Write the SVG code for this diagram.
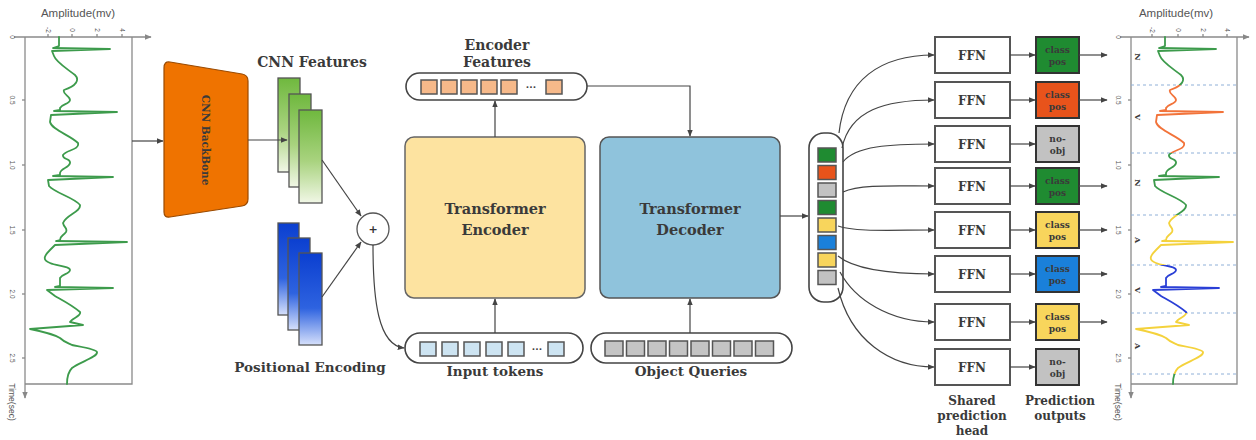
<svg xmlns="http://www.w3.org/2000/svg" width="1256" height="440" viewBox="0 0 1256 440">
<style>
.t{font-family:"DejaVu Serif","Liberation Serif",serif;font-weight:bold;fill:#3a3a3a;text-anchor:middle}
.ax{font-family:"Liberation Sans",Arial,sans-serif;fill:#555;text-anchor:middle}
.axl{stroke:#8a8a8a;stroke-width:1.3;fill:none}
.con{stroke:#444;stroke-width:1.2;fill:none}
.pill{fill:#fff;stroke:#444;stroke-width:1.6}
.ffn{fill:#fff;stroke:#555;stroke-width:2}
.pred{stroke:#333;stroke-width:2}
.sq{stroke:#555;stroke-width:1.5}
.dash{stroke:#8fb0d8;stroke-width:1;stroke-dasharray:3 3}
.ecg{fill:none;stroke-width:1.8;stroke-linejoin:round;stroke-linecap:round}
</style>
<defs>
<marker id="ah" viewBox="0 0 10 10" refX="9" refY="5" markerWidth="7" markerHeight="7" orient="auto" markerUnits="userSpaceOnUse">
<path d="M0,1 L10,5 L0,9 z" fill="#444"/>
</marker>
<marker id="ahg" viewBox="0 0 10 10" refX="9" refY="5" markerWidth="7" markerHeight="7" orient="auto" markerUnits="userSpaceOnUse">
<path d="M0,1 L10,5 L0,9 z" fill="#888"/>
</marker>
<linearGradient id="gG" x1="0" y1="0" x2="0" y2="1">
<stop offset="0" stop-color="#6fb83e"/><stop offset="0.55" stop-color="#a9d37f"/><stop offset="1" stop-color="#f1f7e6"/>
</linearGradient>
<linearGradient id="gB" x1="0" y1="0" x2="0" y2="1">
<stop offset="0" stop-color="#0b3fd0"/><stop offset="0.6" stop-color="#2e63e0"/><stop offset="1" stop-color="#d6e0fb"/>
</linearGradient>
<path id="ecg" d="M59,37 L59,46 L53,48 L110,49 L52,51 L54,56 C56,62 66,68 75,75 C80,80 76,86 64,90 C62,94 70,96 70,100 C70,104 62,104 60,108 L60,110 L54,111 L117,112 L51,115 L50,122 C52,130 70,135 78,143 C80,150 66,150 63,155 C62,160 71,158 70,163 C69,168 61,168 60,173 L60,175 L53,176 L113,177 L48,180 L49,186 C55,193 75,198 80,205 C81,212 66,215 63,223 C64,228 68,228 66,232 C63,236 60,236 60,240 L56,241 L127,242 L55,245 L50,250 C44,256 42,260 50,263 C56,266 70,266 70,270 C70,274 62,274 60,278 L60,286 L55,287 L113,288 L47,290 L55,296 C62,300 72,305 80,312 C82,316 72,318 70,322 L83,325 L30,329 C45,332 55,335 60,338 C64,342 68,343 72,345 C82,347 96,349 97,352 C98,357 80,362 72,368 C68,372 67,378 67,384"/>
<clipPath id="b1"><rect x="1100" y="0" width="150" height="85"/></clipPath>
<clipPath id="b2"><rect x="1100" y="85" width="150" height="68"/></clipPath>
<clipPath id="b3"><rect x="1100" y="153" width="150" height="62"/></clipPath>
<clipPath id="b4"><rect x="1100" y="215" width="150" height="50"/></clipPath>
<clipPath id="b5"><rect x="1100" y="265" width="150" height="48"/></clipPath>
<clipPath id="b6"><rect x="1100" y="313" width="150" height="61"/></clipPath>
<clipPath id="b7"><rect x="1100" y="374" width="150" height="20"/></clipPath>
</defs>

<!-- Left ECG plot -->
<g id="ecg-input">
<text class="ax" x="78" y="17" font-size="11.5">Amplitude(mv)</text>
<line class="axl" x1="14" y1="37" x2="151" y2="37" marker-end="url(#ahg)"/>
<line class="axl" x1="25" y1="37" x2="25" y2="398" marker-end="url(#ahg)"/>
<polyline class="axl" points="132,37 132,384 25,384"/>
<g class="axl" stroke-width="1"><line x1="48" y1="34" x2="48" y2="37"/><line x1="72" y1="34" x2="72" y2="37"/><line x1="97" y1="34" x2="97" y2="37"/><line x1="122" y1="34" x2="122" y2="37"/>
<line x1="22" y1="100" x2="25" y2="100"/><line x1="22" y1="165" x2="25" y2="165"/><line x1="22" y1="230" x2="25" y2="230"/><line x1="22" y1="294" x2="25" y2="294"/><line x1="22" y1="358" x2="25" y2="358"/></g>
<g class="ax" font-size="6.5">
<text transform="translate(46,30) rotate(90)">-2</text><text transform="translate(70,30) rotate(90)">0</text><text transform="translate(95,30) rotate(90)">2</text><text transform="translate(120,30) rotate(90)">4</text>
<text transform="translate(10,37) rotate(90)">0</text><text transform="translate(10,100) rotate(90)">0.5</text><text transform="translate(10,165) rotate(90)">1.0</text><text transform="translate(10,230) rotate(90)">1.5</text><text transform="translate(10,294) rotate(90)">2.0</text><text transform="translate(10,358) rotate(90)">2.5</text>
</g>
<text class="ax" transform="translate(9,402) rotate(90)" font-size="8.5">Time(sec)</text>
<use href="#ecg" class="ecg" stroke="#3d9b4c"/>
</g>

<!-- CNN backbone -->
<g id="cnn-backbone">
<path d="M170,62 L242,74 Q248,75 248,81 L248,199 Q248,205 242,206 L170,217 Q164,218 164,212 L164,68 Q164,61 170,62 z" fill="#ef7300" stroke="#9a4a00" stroke-width="1.2"/>
<text class="t" transform="translate(202,140) rotate(90)" font-size="10.5" fill="#222">CNN BackBone</text>
</g>

<!-- CNN features -->
<g id="cnn-features">
<text class="t" x="312" y="67" font-size="14">CNN Features</text>
<rect x="278" y="78" width="22" height="94" fill="url(#gG)" stroke="#555" stroke-width="1.3"/>
<rect x="289" y="94" width="22" height="93" fill="url(#gG)" stroke="#555" stroke-width="1.3"/>
<rect x="299" y="110" width="23" height="93" fill="url(#gG)" stroke="#555" stroke-width="1.3"/>
</g>

<!-- Positional encoding -->
<g id="positional-encoding">
<rect x="278" y="223" width="21" height="92" fill="url(#gB)" stroke="#555" stroke-width="1.3"/>
<rect x="288" y="238" width="22" height="92" fill="url(#gB)" stroke="#555" stroke-width="1.3"/>
<rect x="299" y="253" width="23" height="92" fill="url(#gB)" stroke="#555" stroke-width="1.3"/>
<text class="t" x="310" y="372" font-size="13.5">Positional Encoding</text>
</g>

<!-- Sum -->
<g id="sum">
<circle cx="373" cy="229" r="16" fill="#fff" stroke="#555" stroke-width="1.3"/>
<text x="373" y="233" font-family="DejaVu Sans,sans-serif" font-size="11" font-weight="bold" text-anchor="middle" fill="#333">+</text>
</g>

<!-- Encoder features -->
<g id="encoder-features">
<text class="t" x="497" y="50" font-size="14">Encoder</text>
<text class="t" x="497" y="67" font-size="14">Features</text>
<rect class="pill" x="406" y="73" width="181" height="27" rx="13.5"/>
<g class="sq" fill="#f6b98a">
<rect x="421" y="80" width="16" height="14"/><rect x="441" y="80" width="16" height="14"/><rect x="461" y="80" width="16" height="14"/><rect x="481" y="80" width="16" height="14"/><rect x="501" y="80" width="16" height="14"/><rect x="546" y="80" width="16" height="14"/>
</g>
<text x="531" y="90" font-family="DejaVu Sans,sans-serif" font-size="9" font-weight="bold" text-anchor="middle" fill="#444">···</text>
</g>

<!-- Transformer encoder -->
<g id="transformer-encoder">
<rect x="405" y="137" width="180" height="161" rx="9" fill="#fde3a0" stroke="#666" stroke-width="1.5"/>
<text class="t" x="495" y="214" font-size="14.5">Transformer</text>
<text class="t" x="495" y="235" font-size="14.5">Encoder</text>
</g>

<!-- Transformer decoder -->
<g id="transformer-decoder">
<rect x="600" y="137" width="180" height="161" rx="9" fill="#8fc3dc" stroke="#555" stroke-width="1.5"/>
<text class="t" x="690" y="214" font-size="14.5">Transformer</text>
<text class="t" x="690" y="235" font-size="14.5">Decoder</text>
</g>

<!-- Input tokens -->
<g id="input-tokens">
<rect class="pill" x="405" y="333" width="178" height="30" rx="15"/>
<g class="sq" fill="#cde4f2">
<rect x="420" y="342" width="16" height="14"/><rect x="442" y="342" width="16" height="14"/><rect x="464" y="342" width="16" height="14"/><rect x="486" y="342" width="16" height="14"/><rect x="508" y="342" width="16" height="14"/><rect x="548" y="342" width="16" height="14"/>
</g>
<text x="537" y="352" font-family="DejaVu Sans,sans-serif" font-size="9" font-weight="bold" text-anchor="middle" fill="#444">···</text>
<text class="t" x="495" y="376" font-size="13.5">Input tokens</text>
</g>

<!-- Object queries -->
<g id="object-queries">
<rect class="pill" x="591" y="333" width="201" height="30" rx="15"/>
<g class="sq" fill="#c4c4c4">
<rect x="605" y="341" width="18" height="15"/><rect x="626.5" y="341" width="18" height="15"/><rect x="648" y="341" width="18" height="15"/><rect x="669.5" y="341" width="18" height="15"/><rect x="691" y="341" width="18" height="15"/><rect x="712.5" y="341" width="18" height="15"/><rect x="734" y="341" width="18" height="15"/><rect x="755.5" y="341" width="18" height="15"/>
</g>
<text class="t" x="691" y="376" font-size="13.5">Object Queries</text>
</g>

<!-- Decoder outputs column -->
<g id="decoder-outputs">
<rect class="pill" x="809" y="133" width="34" height="169" rx="15"/>
<g class="sq">
<rect x="818" y="148" width="18" height="14" fill="#1f8b31"/>
<rect x="818" y="165.5" width="18" height="14" fill="#e8531b"/>
<rect x="818" y="183" width="18" height="14" fill="#c2c2c2"/>
<rect x="818" y="200.5" width="18" height="14" fill="#1f8b31"/>
<rect x="818" y="218" width="18" height="14" fill="#f8d55c"/>
<rect x="818" y="235.5" width="18" height="14" fill="#1a80da"/>
<rect x="818" y="253" width="18" height="14" fill="#f8d55c"/>
<rect x="818" y="270.5" width="18" height="14" fill="#c2c2c2"/>
</g>
</g>

<!-- FFN heads -->
<g id="ffn-heads">
<rect class="ffn" x="935" y="37" width="75" height="36"/>
<rect class="ffn" x="935" y="82" width="75" height="36"/>
<rect class="ffn" x="935" y="126" width="75" height="36"/>
<rect class="ffn" x="935" y="168" width="75" height="36"/>
<rect class="ffn" x="935" y="212" width="75" height="36"/>
<rect class="ffn" x="935" y="256" width="75" height="36"/>
<rect class="ffn" x="935" y="304" width="75" height="36"/>
<rect class="ffn" x="935" y="349" width="75" height="36"/>
<g class="t" font-size="12">
<text x="972" y="60">FFN</text><text x="972" y="105">FFN</text><text x="972" y="149">FFN</text><text x="972" y="191">FFN</text><text x="972" y="235">FFN</text><text x="972" y="279">FFN</text><text x="972" y="327">FFN</text><text x="972" y="372">FFN</text>
</g>
<text class="t" x="972" y="405" font-size="12">Shared</text>
<text class="t" x="972" y="420" font-size="12">prediction</text>
<text class="t" x="972" y="435" font-size="12">head</text>
</g>

<!-- Prediction outputs -->
<g id="prediction-outputs">
<rect class="pred" x="1036" y="37" width="43" height="36" fill="#1f8b31"/>
<rect class="pred" x="1036" y="82" width="43" height="36" fill="#e8531b"/>
<rect class="pred" x="1036" y="126" width="43" height="36" fill="#c2c2c2"/>
<rect class="pred" x="1036" y="168" width="43" height="36" fill="#1f8b31"/>
<rect class="pred" x="1036" y="212" width="43" height="36" fill="#f8d55c"/>
<rect class="pred" x="1036" y="256" width="43" height="36" fill="#1a80da"/>
<rect class="pred" x="1036" y="304" width="43" height="36" fill="#f8d55c"/>
<rect class="pred" x="1036" y="349" width="43" height="36" fill="#c2c2c2"/>
<g class="t" font-size="9" fill="#333">
<text x="1057.5" y="53">class</text><text x="1057.5" y="65">pos</text>
<text x="1057.5" y="98">class</text><text x="1057.5" y="110">pos</text>
<text x="1057.5" y="142">no-</text><text x="1057.5" y="154">obj</text>
<text x="1057.5" y="184">class</text><text x="1057.5" y="196">pos</text>
<text x="1057.5" y="228">class</text><text x="1057.5" y="240">pos</text>
<text x="1057.5" y="272">class</text><text x="1057.5" y="284">pos</text>
<text x="1057.5" y="320">class</text><text x="1057.5" y="332">pos</text>
<text x="1057.5" y="365">no-</text><text x="1057.5" y="377">obj</text>
</g>
<text class="t" x="1060" y="405" font-size="12">Prediction</text>
<text class="t" x="1060" y="420" font-size="12">outputs</text>
</g>

<!-- Right ECG plot -->
<g id="ecg-output">
<text class="ax" x="1176" y="17" font-size="11.5">Amplitude(mv)</text>
<line class="axl" x1="1120" y1="37" x2="1249" y2="37" marker-end="url(#ahg)"/>
<line class="axl" x1="1131" y1="37" x2="1131" y2="398" marker-end="url(#ahg)"/>
<polyline class="axl" points="1237,37 1237,384 1131,384"/>
<g class="axl" stroke-width="1"><line x1="1152" y1="34" x2="1152" y2="37"/><line x1="1178" y1="34" x2="1178" y2="37"/><line x1="1203" y1="34" x2="1203" y2="37"/><line x1="1227" y1="34" x2="1227" y2="37"/>
<line x1="1128" y1="100" x2="1131" y2="100"/><line x1="1128" y1="165" x2="1131" y2="165"/><line x1="1128" y1="230" x2="1131" y2="230"/><line x1="1128" y1="294" x2="1131" y2="294"/><line x1="1128" y1="358" x2="1131" y2="358"/></g>
<g class="ax" font-size="6.5">
<text transform="translate(1150,30) rotate(90)">-2</text><text transform="translate(1176,30) rotate(90)">0</text><text transform="translate(1201,30) rotate(90)">2</text><text transform="translate(1225,30) rotate(90)">4</text>
<text transform="translate(1116,37) rotate(90)">0</text><text transform="translate(1116,100) rotate(90)">0.5</text><text transform="translate(1116,165) rotate(90)">1.0</text><text transform="translate(1116,230) rotate(90)">1.5</text><text transform="translate(1116,294) rotate(90)">2.0</text><text transform="translate(1116,358) rotate(90)">2.5</text>
</g>
<text class="ax" transform="translate(1115,402) rotate(90)" font-size="8.5">Time(sec)</text>
<g class="dash"><line x1="1131" y1="85" x2="1237" y2="85"/><line x1="1131" y1="153" x2="1237" y2="153"/><line x1="1131" y1="215" x2="1237" y2="215"/><line x1="1131" y1="265" x2="1237" y2="265"/><line x1="1131" y1="313" x2="1237" y2="313"/><line x1="1131" y1="374" x2="1237" y2="374"/></g>
<g class="t" font-size="8" fill="#444">
<text transform="translate(1135,57) rotate(90)">N</text><text transform="translate(1135,117) rotate(90)">V</text><text transform="translate(1135,183) rotate(90)">N</text><text transform="translate(1135,240) rotate(90)">A</text><text transform="translate(1135,290) rotate(90)">V</text><text transform="translate(1135,346) rotate(90)">A</text>
</g>
<g clip-path="url(#b1)"><use href="#ecg" class="ecg" stroke="#3d9b4c" transform="translate(1106,0)"/></g>
<g clip-path="url(#b2)"><use href="#ecg" class="ecg" stroke="#f2733a" transform="translate(1106,0)"/></g>
<g clip-path="url(#b3)"><use href="#ecg" class="ecg" stroke="#3d9b4c" transform="translate(1106,0)"/></g>
<g clip-path="url(#b4)"><use href="#ecg" class="ecg" stroke="#f4d23c" transform="translate(1106,0)"/></g>
<g clip-path="url(#b5)"><use href="#ecg" class="ecg" stroke="#2a3fd6" transform="translate(1106,0)"/></g>
<g clip-path="url(#b6)"><use href="#ecg" class="ecg" stroke="#f4d23c" transform="translate(1106,0)"/></g>
<g clip-path="url(#b7)"><use href="#ecg" class="ecg" stroke="#3d9b4c" transform="translate(1106,0)"/></g>
</g>

<!-- Connectors -->
<g id="connectors">
<line class="con" x1="132" y1="141" x2="163" y2="141" marker-end="url(#ah)"/>
<line class="con" x1="248" y1="140" x2="287" y2="140" marker-end="url(#ah)"/>
<line class="con" x1="322" y1="160" x2="361" y2="216" marker-end="url(#ah)"/>
<line class="con" x1="322" y1="297" x2="361" y2="242" marker-end="url(#ah)"/>
<path class="con" d="M373,245 C373,300 378,345 404,348" marker-end="url(#ah)"/>
<line class="con" x1="495" y1="333" x2="495" y2="299" marker-end="url(#ah)"/>
<line class="con" x1="495" y1="137" x2="495" y2="101" marker-end="url(#ah)"/>
<polyline class="con" points="587,86 690,86 690,136" marker-end="url(#ah)"/>
<line class="con" x1="690" y1="333" x2="690" y2="299" marker-end="url(#ah)"/>
<line class="con" x1="780" y1="216" x2="808" y2="216" marker-end="url(#ah)"/>
<path class="con" d="M839,133 C845,80 880,55 934,55" marker-end="url(#ah)"/>
<path class="con" d="M842,148 C850,110 885,100 934,100" marker-end="url(#ah)"/>
<path class="con" d="M843,162 C855,146 890,144 934,144" marker-end="url(#ah)"/>
<path class="con" d="M843,192 C860,184 895,186 934,186" marker-end="url(#ah)"/>
<path class="con" d="M838,226 C855,232 890,230 934,230" marker-end="url(#ah)"/>
<path class="con" d="M838,256 C855,270 890,274 934,274" marker-end="url(#ah)"/>
<path class="con" d="M840,272 C855,300 890,322 934,322" marker-end="url(#ah)"/>
<path class="con" d="M838,288 C850,340 890,367 934,367" marker-end="url(#ah)"/>
<line class="con" x1="1010" y1="55" x2="1035" y2="55" marker-end="url(#ah)"/>
<line class="con" x1="1010" y1="100" x2="1035" y2="100" marker-end="url(#ah)"/>
<line class="con" x1="1010" y1="144" x2="1035" y2="144" marker-end="url(#ah)"/>
<line class="con" x1="1010" y1="186" x2="1035" y2="186" marker-end="url(#ah)"/>
<line class="con" x1="1010" y1="230" x2="1035" y2="230" marker-end="url(#ah)"/>
<line class="con" x1="1010" y1="274" x2="1035" y2="274" marker-end="url(#ah)"/>
<line class="con" x1="1010" y1="322" x2="1035" y2="322" marker-end="url(#ah)"/>
<line class="con" x1="1010" y1="367" x2="1035" y2="367" marker-end="url(#ah)"/>
<line class="con" x1="1079" y1="55" x2="1107" y2="55" marker-end="url(#ah)"/>
<line class="con" x1="1079" y1="100" x2="1107" y2="100" marker-end="url(#ah)"/>
<line class="con" x1="1079" y1="186" x2="1107" y2="186" marker-end="url(#ah)"/>
<line class="con" x1="1079" y1="230" x2="1107" y2="230" marker-end="url(#ah)"/>
<line class="con" x1="1079" y1="274" x2="1107" y2="274" marker-end="url(#ah)"/>
<line class="con" x1="1079" y1="322" x2="1107" y2="322" marker-end="url(#ah)"/>
</g>
</svg>
